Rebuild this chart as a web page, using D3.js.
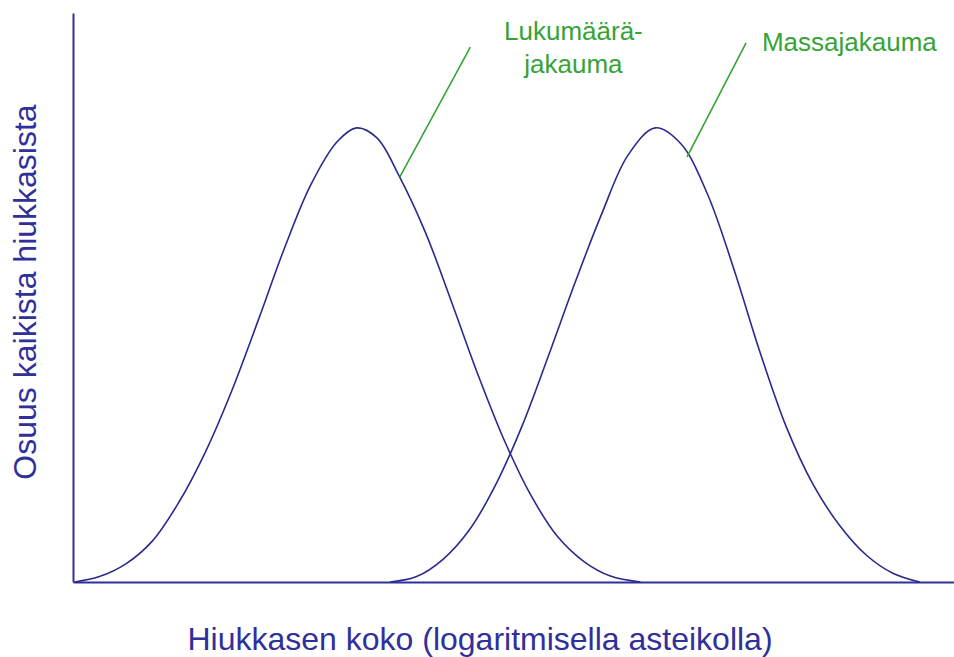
<!DOCTYPE html>
<html lang="fi">
  <head>
    <meta charset="UTF-8">
    <title>Lukumäärä- ja massajakauma</title>
    <style>
      body { margin: 0; background: #fff; }
      svg { display: block; }
    </style>
  </head>
  <body>
    <svg id="kuva" width="954" height="657"></svg>

    <script src="https://d3js.org/d3.v7.min.js"></script>
    <script>
      // lukumäärajakauma, luettu kuvasta (x = koko log-asteikolla, y = osuus)
      var lukuX = [0.02, 0.3, 0.6, 0.9, 1.2, 1.5, 1.8, 2.1, 2.4, 2.7, 3.0, 3.22,
                   3.45, 3.7, 4.0, 4.3, 4.6, 4.9, 5.2, 5.5, 5.8, 6.1, 6.44];
      var lukuY = [0, 0.012, 0.04, 0.09, 0.175, 0.285, 0.42, 0.575, 0.735, 0.875, 0.97, 1.0,
                   0.978, 0.895, 0.77, 0.615, 0.455, 0.31, 0.19, 0.1, 0.045, 0.013, 0];

      // massajakauma
      var massaX = [3.6, 3.9, 4.2, 4.5, 4.8, 5.1, 5.4, 5.7, 6.0, 6.3, 6.61,
                    6.9, 7.2, 7.5, 7.8, 8.1, 8.4, 8.7, 9.0, 9.3, 9.61];
      var massaY = [0, 0.012, 0.05, 0.115, 0.215, 0.345, 0.5, 0.66, 0.81, 0.94, 1.0,
                    0.965, 0.855, 0.69, 0.505, 0.34, 0.215, 0.125, 0.06, 0.02, 0];

      // selitteet: teksti, viivan alku (käyrällä) ja loppu
      var selitteet = [
        {rivit: ["Lukumäärä-", "jakauma"], tx: 5.68, ty: 1.194, ankkuri: "middle",
         x1: 3.71, y1: 0.892, x2: 4.51, y2: 1.178},
        {rivit: ["Massajakauma"], tx: 7.82, ty: 1.170, ankkuri: "start",
         x1: 6.97, y1: 0.936, x2: 7.64, y2: 1.187}
      ];

      var sininen = "#30309a",
          kayra = "#2a2a8c",
          vihrea = "#36a336";

      var svg = d3.select("#kuva"),
          vasen = 73, oikea = 954, yla = 13, ala = 582;

      var x = d3.scaleLinear().domain([0, 10]).range([vasen, vasen + 881]);
      var y = d3.scaleLinear().domain([0, 1.253]).range([ala, yla]);

      // akselit ilman merkkejä
      svg.append("g")
        .attr("transform", "translate(0," + ala + ")")
        .call(d3.axisBottom(x).tickValues([]).tickSizeOuter(0))
        .select(".domain").attr("stroke", sininen).attr("stroke-width", 2);

      svg.append("g")
        .attr("transform", "translate(" + vasen + ",0)")
        .call(d3.axisLeft(y).tickValues([]).tickSizeOuter(0))
        .select(".domain").attr("stroke", sininen).attr("stroke-width", 2);

      var viiva = d3.line()
        .x(function(d) { return x(d[0]); })
        .y(function(d) { return y(d[1]); })
        .curve(d3.curveCatmullRom.alpha(0.5));

      [[lukuX, lukuY], [massaX, massaY]].forEach(function(s) {
        svg.append("path")
          .datum(d3.zip(s[0], s[1]))
          .attr("d", viiva)
          .attr("fill", "none")
          .attr("stroke", kayra)
          .attr("stroke-width", 1.6);
      });

      // selitteet ja viivat
      selitteet.forEach(function(s) {
        svg.append("line")
          .attr("x1", x(s.x1)).attr("y1", y(s.y1))
          .attr("x2", x(s.x2)).attr("y2", y(s.y2))
          .attr("stroke", vihrea)
          .attr("stroke-width", 1.6);

        var t = svg.append("text")
          .attr("x", x(s.tx)).attr("y", y(s.ty))
          .attr("text-anchor", s.ankkuri)
          .attr("font-family", "Liberation Sans, Arial, sans-serif")
          .attr("font-size", 26)
          .attr("fill", vihrea);
        s.rivit.forEach(function(r, i) {
          t.append("tspan")
            .attr("x", x(s.tx))
            .attr("dy", i === 0 ? 0 : 33)
            .text(r);
        });
      });

      // akselien nimet
      svg.append("text")
        .attr("x", 480)
        .attr("y", 650)
        .attr("text-anchor", "middle")
        .attr("font-family", "Liberation Sans, Arial, sans-serif")
        .attr("font-size", 32)
        .attr("fill", sininen)
        .text("Hiukkasen koko (logaritmisella asteikolla)");

      svg.append("text")
        .attr("transform", "translate(36,292) rotate(-90)")
        .attr("text-anchor", "middle")
        .attr("font-family", "Liberation Sans, Arial, sans-serif")
        .attr("font-size", 32)
        .attr("fill", sininen)
        .text("Osuus kaikista hiukkasista");
    </script>
  </body>
</html>
